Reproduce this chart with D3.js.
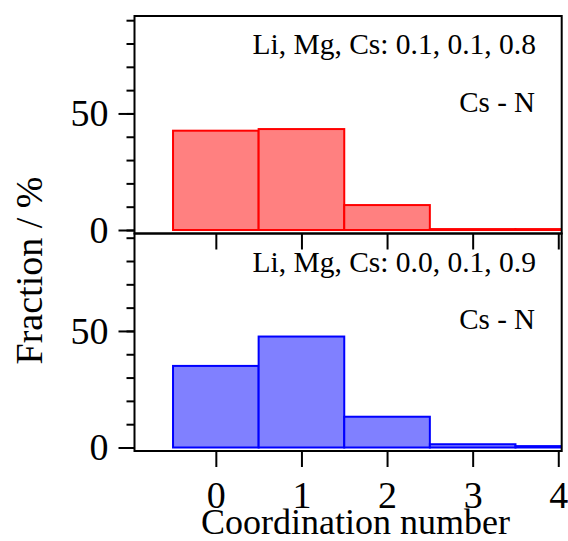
<!DOCTYPE html>
<head>
  <meta charset="utf-8">
  <script src="https://d3js.org/d3.v7.min.js"></script>
  <style>
    body { margin:0; background:#fff; }
    svg { display:block; }
  </style>
</head>
<body>
<script>
  // coordination numbers (bin centres) and fractions in %
  var bins = [0, 1, 2, 3, 4];
  var fracTop = [42.6, 43.3, 10.7, 0.4, 0.4];
  var fracBottom = [35.0, 47.6, 13.2, 1.4, 0.6];
  var compTop = "Li, Mg, Cs: 0.1, 0.1, 0.8";
  var compBottom = "Li, Mg, Cs: 0.0, 0.1, 0.9";
  var pairLabel = "Cs - N";
  var yMajor = [0, 50];
  var yMinor = [0, 10, 20, 30, 40, 50, 60, 70, 80, 90];
  var xTicks = [0, 1, 2, 3, 4];

  var width = 568, height = 541;
  var left = 134.5, right = 561.7;
  var panelH = 217.5;
  var tops = [16, 233.5];

  var svg = d3.select("body").append("svg")
    .attr("width", width)
    .attr("height", height);

  var x = d3.scaleLinear().domain([-0.95, 4.04]).range([left, right]);

  var panels = [
    { top: tops[0], data: fracTop, comp: compTop, fill: "#ff8080", stroke: "#ff0000" },
    { top: tops[1], data: fracBottom, comp: compBottom, fill: "#8080ff", stroke: "#0000ff" }
  ];

  panels.forEach(function(p, i) {
    var y = d3.scaleLinear().domain([-1.5, 91.8]).range([p.top + panelH, p.top]);

    svg.append("clipPath").attr("id", "clip" + i)
      .append("rect")
      .attr("x", left).attr("y", p.top)
      .attr("width", right - left).attr("height", panelH);

    // histogram bars
    svg.append("g").attr("clip-path", "url(#clip" + i + ")")
      .selectAll("rect")
      .data(bins)
      .enter().append("rect")
      .attr("x", function(d) { return x(d - 0.5); })
      .attr("width", function(d) { return x(d + 0.5) - x(d - 0.5); })
      .attr("y", function(d, j) { return y(p.data[j]); })
      .attr("height", function(d, j) { return y(0) - y(p.data[j]); })
      .attr("fill", p.fill)
      .attr("stroke", p.stroke)
      .attr("stroke-width", 2);

    // minor y ticks
    var minor = svg.append("g")
      .attr("transform", "translate(" + left + ",0)")
      .call(d3.axisLeft(y).tickValues(yMinor).tickSize(8).tickFormat(""));
    minor.select(".domain").remove();

    // major y ticks with labels
    var major = svg.append("g")
      .attr("transform", "translate(" + left + ",0)")
      .call(d3.axisLeft(y).tickValues(yMajor).tickSize(16).tickPadding(10));
    major.select(".domain").remove();
    major.selectAll("text").attr("font-size", 38);

    // x ticks
    var xa = svg.append("g")
      .attr("transform", "translate(0," + (p.top + panelH) + ")")
      .call(d3.axisBottom(x).tickValues(xTicks).tickSize(16)
        .tickFormat(i === 1 ? d3.format("d") : ""));
    xa.select(".domain").remove();
    xa.selectAll("text")
      .attr("y", 57).attr("dy", 0)
      .attr("font-size", 38);

    svg.selectAll(".tick line").attr("stroke-width", 2);

    // frame
    svg.append("rect")
      .attr("x", left).attr("y", p.top)
      .attr("width", right - left).attr("height", panelH)
      .attr("fill", "none")
      .attr("stroke", "#000")
      .attr("stroke-width", 2);

    svg.append("text")
      .attr("x", 536).attr("y", p.top + 38)
      .attr("text-anchor", "end")
      .attr("font-size", 29.5)
      .text(p.comp);

    svg.append("text")
      .attr("x", 535).attr("y", p.top + 95.5)
      .attr("text-anchor", "end")
      .attr("font-size", 29)
      .text(pairLabel);
  });

  svg.append("text")
    .attr("transform", "translate(42,270.5) rotate(-90)")
    .attr("text-anchor", "middle")
    .attr("font-size", 38)
    .text("Fraction / %");

  svg.append("text")
    .attr("x", 355.5).attr("y", 534)
    .attr("text-anchor", "middle")
    .attr("font-size", 36)
    .text("Coordination number");

  svg.selectAll("g").attr("font-family", null).attr("font-size", null);
  svg.selectAll("text")
    .attr("font-family", "Liberation Serif")
    .attr("fill", "#000");
</script>
</body>
